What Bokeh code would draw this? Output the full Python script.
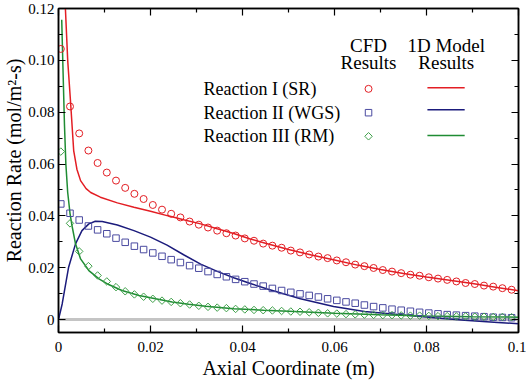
import math
from bokeh.plotting import figure
from bokeh.models import Range1d, LinearAxis, FixedTicker, Span, Label
from bokeh.embed import file_html
from bokeh.resources import INLINE

# ---------------- data ----------------
cfd_x = [0.0005, 0.0025, 0.0045, 0.0065, 0.0085, 0.0105, 0.0125, 0.0145, 0.0165, 0.0185,
         0.0205, 0.0225, 0.0245, 0.0265, 0.0285, 0.0305, 0.0325, 0.0345, 0.0365, 0.0385,
         0.0405, 0.0425, 0.0445, 0.0465, 0.0485, 0.0505, 0.0525, 0.0545, 0.0565, 0.0585,
         0.0605, 0.0625, 0.0645, 0.0665, 0.0685, 0.0705, 0.0725, 0.0745, 0.0765, 0.0785,
         0.0805, 0.0825, 0.0845, 0.0865, 0.0885, 0.0905, 0.0925, 0.0945, 0.0965, 0.0985]

cfd_sr = [0.1044, 0.0822, 0.0718, 0.0652, 0.0604, 0.0567, 0.0536, 0.0508, 0.0485, 0.0465,
          0.0442, 0.0424, 0.0408, 0.0394, 0.0378, 0.0366, 0.0355, 0.0343, 0.0333, 0.0324,
          0.0313, 0.0304, 0.0293, 0.0285, 0.0277, 0.0266, 0.0259, 0.0251, 0.0243, 0.0237,
          0.0228, 0.0221, 0.0212, 0.0206, 0.0199, 0.0191, 0.0185, 0.0179, 0.0173, 0.0169,
          0.0163, 0.0158, 0.0153, 0.0147, 0.0141, 0.0137, 0.0131, 0.0127, 0.0121, 0.0115]

cfd_wgs = [0.0446, 0.0410, 0.0384, 0.0361, 0.0346, 0.0331, 0.0314, 0.0298, 0.0283, 0.0270,
           0.0257, 0.0244, 0.0231, 0.0220, 0.0208, 0.0198, 0.0185, 0.0174, 0.0165, 0.0155,
           0.0146, 0.0137, 0.0129, 0.0120, 0.0112, 0.0105, 0.0099, 0.0093, 0.0087, 0.0080,
           0.0074, 0.0068, 0.0063, 0.0056, 0.0050, 0.0045, 0.0040, 0.0036, 0.0032, 0.0028,
           0.0025, 0.0022, 0.0019, 0.0017, 0.0015, 0.0013, 0.0011, 0.0009, 0.0008, 0.0007]

cfd_rm = [0.0648, 0.0371, 0.0263, 0.0206, 0.0170, 0.0147, 0.0125, 0.0109, 0.0097, 0.0088,
          0.0080, 0.0073, 0.0068, 0.0063, 0.0058, 0.0053, 0.0049, 0.0046, 0.0044, 0.0041,
          0.0039, 0.0037, 0.0036, 0.0035, 0.0033, 0.0031, 0.0030, 0.0028, 0.0026, 0.0024,
          0.0023, 0.0021, 0.0020, 0.0019, 0.0018, 0.0017, 0.0017, 0.0016, 0.0015, 0.0015,
          0.0014, 0.0013, 0.0013, 0.0012, 0.0012, 0.0011, 0.0011, 0.0010, 0.0010, 0.0009]

model_sr_x = [0.0013, 0.0015, 0.0020, 0.0026, 0.0033, 0.0040, 0.0048, 0.0060, 0.0070, 0.0091,
              0.0128, 0.0164, 0.0200, 0.0236, 0.0272, 0.0309, 0.0345, 0.0381, 0.0417, 0.0450,
              0.0500, 0.0550, 0.0600, 0.0650, 0.0700, 0.0750, 0.0800, 0.0850, 0.0900, 0.0950, 0.1000]
model_sr_y = [0.1280, 0.1200, 0.1000, 0.0845, 0.0652, 0.0580, 0.0536, 0.0505, 0.0490, 0.0472,
              0.0450, 0.0433, 0.0418, 0.0401, 0.0385, 0.0369, 0.0350, 0.0332, 0.0311, 0.0294,
              0.0270, 0.0249, 0.0230, 0.0210, 0.0193, 0.0178, 0.0164, 0.0152, 0.0139, 0.0125, 0.0111]

model_wgs_x = [0.0000, 0.0008, 0.0022, 0.0037, 0.0051, 0.0066, 0.0080, 0.0095, 0.0128, 0.0164,
               0.0200, 0.0236, 0.0272, 0.0309, 0.0345, 0.0381, 0.0417, 0.0454, 0.0526, 0.0598,
               0.0665, 0.0738, 0.0810, 0.0883, 0.0955, 0.1000]
model_wgs_y = [0.0000, 0.0060, 0.0202, 0.0292, 0.0343, 0.0369, 0.0379, 0.0378, 0.0365, 0.0343,
               0.0318, 0.0287, 0.0250, 0.0214, 0.0186, 0.0161, 0.0139, 0.0118, 0.0080, 0.0050,
               0.0031, 0.0019, 0.0008, -0.0003, -0.0011, -0.0016]

model_rm_x = [0.0007, 0.0010, 0.0013, 0.0016, 0.0020, 0.0025, 0.0030, 0.0037, 0.0048, 0.0066,
              0.0088, 0.0109, 0.0138, 0.0175, 0.0211, 0.0247, 0.0283, 0.0320, 0.0381, 0.0446,
              0.0500, 0.0600, 0.0700, 0.0800, 0.0900, 0.1000]
model_rm_y = [0.1157, 0.0950, 0.0750, 0.0600, 0.0490, 0.0410, 0.0356, 0.0292, 0.0234, 0.0189,
              0.0157, 0.0135, 0.0112, 0.0093, 0.0080, 0.0068, 0.0059, 0.0051, 0.0042, 0.0036,
              0.0032, 0.0024, 0.0018, 0.0014, 0.0011, 0.0009]

series_labels = ["Reaction I (SR)", "Reaction II (WGS)", "Reaction III (RM)"]
header_cfd = ["CFD", "Results"]
header_model = ["1D Model", "Results"]

x_ticks = [0, 0.02, 0.04, 0.06, 0.08, 0.1]
x_tick_labels = ["0", "0.02", "0.04", "0.06", "0.08", "0.1"]
x_minor = [0.01, 0.03, 0.05, 0.07, 0.09]
y_ticks = [0, 0.02, 0.04, 0.06, 0.08, 0.10, 0.12]
y_tick_labels = ["0", "0.02", "0.04", "0.06", "0.08", "0.10", "0.12"]
y_minor = [0.01, 0.03, 0.05, 0.07, 0.09, 0.11]

x_title = "Axial Coordinate (m)"
y_title = "Reaction Rate (mol/m\u00b2-s)"

# ---------------- style ----------------
FONT = "Liberation Serif"
RED = "#e31e24"
BLUE_LINE = "#1b1b7c"
BLUE_MK = "#4a4aa0"
GREEN_LINE = "#1f8c33"
GREEN_MK = "#3fa04a"

p = figure(width=526, height=386,
           x_range=Range1d(0, 0.1), y_range=Range1d(-0.005, 0.12),
           output_backend="svg", toolbar_location=None,
           min_border_left=58, min_border_right=8, min_border_top=8, min_border_bottom=54)
p.xgrid.visible = False
p.ygrid.visible = False
p.outline_line_color = "black"
p.outline_line_width = 1.5
p.background_fill_color = "white"
p.border_fill_color = "white"

p.add_layout(LinearAxis(), "above")
p.add_layout(LinearAxis(), "right")

for ax, ticks, labels, minor in [
        (p.below[0], x_ticks, x_tick_labels, x_minor),
        (p.above[0], x_ticks, x_tick_labels, x_minor),
        (p.left[0], y_ticks, y_tick_labels, y_minor),
        (p.right[0], y_ticks, y_tick_labels, y_minor)]:
    ax.ticker = FixedTicker(ticks=ticks, minor_ticks=minor)
    ax.major_tick_in = 7
    ax.major_tick_out = 0
    ax.minor_tick_in = 4
    ax.minor_tick_out = 0
    ax.axis_line_color = "black"
    ax.axis_line_width = 1.5
    ax.major_tick_line_color = "black"
    ax.minor_tick_line_color = "black"
    ax.major_tick_line_width = 1.2
    ax.minor_tick_line_width = 1.2
    ax.major_label_text_font = FONT
    ax.major_label_text_font_size = "15px"
    ax.major_label_text_color = "black"
    ax.major_label_overrides = {t: l for t, l in zip(ticks, labels)}

p.above[0].major_label_overrides = {t: "" for t in x_ticks}
p.above[0].major_label_standoff = 0
p.right[0].major_label_overrides = {t: "" for t in y_ticks}
p.right[0].major_label_standoff = 0

xa = p.below[0]
xa.major_label_standoff = 9
xa.axis_label = x_title
xa.axis_label_text_font = FONT
xa.axis_label_text_font_size = "20px"
xa.axis_label_text_font_style = "normal"
xa.axis_label_text_color = "black"
xa.axis_label_standoff = 2

ya = p.left[0]
ya.major_label_standoff = 4
ya.axis_label = "\u00a0" * 4 + y_title
ya.axis_label_text_font = FONT
ya.axis_label_text_font_size = "20px"
ya.axis_label_text_font_style = "normal"
ya.axis_label_text_color = "black"
ya.axis_label_standoff = 0

# zero reference line
p.add_layout(Span(location=0, dimension="width", line_color="#c4c4c4", line_width=3, level="underlay"))

# model lines
p.line(model_sr_x, model_sr_y, line_color=RED, line_width=1.5)
p.line(model_wgs_x, model_wgs_y, line_color=BLUE_LINE, line_width=1.5)
p.line(model_rm_x, model_rm_y, line_color=GREEN_LINE, line_width=1.5)

# CFD markers
p.scatter(cfd_x, cfd_sr, marker="circle", size=7, fill_color=None, line_color=RED, line_width=1)
p.scatter(cfd_x, cfd_wgs, marker="square", size=6.5, fill_color=None, line_color=BLUE_MK, line_width=1)
p.scatter(cfd_x, cfd_rm, marker="square", angle=math.pi / 4, size=5.3, fill_color=None,
          line_color=GREEN_MK, line_width=1)

# custom legend
row_y = [0.0890, 0.0798, 0.0707]
line_y = [0.0894, 0.0809, 0.0710]
lab_x = 0.0315
mk_x = 0.0674
ln_x0, ln_x1 = 0.0802, 0.0883
mod_x = 0.0843
head_y = [0.1057, 0.0992]

for t, yy in zip(series_labels, row_y):
    p.add_layout(Label(x=lab_x, y=yy, text=t, text_font=FONT, text_font_size="18px",
                       text_color="black", text_align="left", text_baseline="middle"))
for t, yy in zip(header_cfd, head_y):
    p.add_layout(Label(x=mk_x, y=yy, text=t, text_font=FONT, text_font_size="19px",
                       text_color="black", text_align="center", text_baseline="middle"))
for t, yy in zip(header_model, head_y):
    p.add_layout(Label(x=mod_x, y=yy, text=t, text_font=FONT, text_font_size="19px",
                       text_color="black", text_align="center", text_baseline="middle"))

p.scatter([mk_x], [row_y[0]], marker="circle", size=7, fill_color=None, line_color=RED, line_width=1)
p.scatter([mk_x], [row_y[1]], marker="square", size=6.5, fill_color=None, line_color=BLUE_MK, line_width=1)
p.scatter([mk_x], [row_y[2]], marker="square", angle=math.pi / 4, size=5.3, fill_color=None,
          line_color=GREEN_MK, line_width=1)
for c, yy in zip([RED, BLUE_LINE, GREEN_LINE], line_y):
    p.segment(x0=[ln_x0], y0=[yy], x1=[ln_x1], y1=[yy], line_color=c, line_width=1.5)

open("out.html", "w").write(file_html(p, INLINE))
